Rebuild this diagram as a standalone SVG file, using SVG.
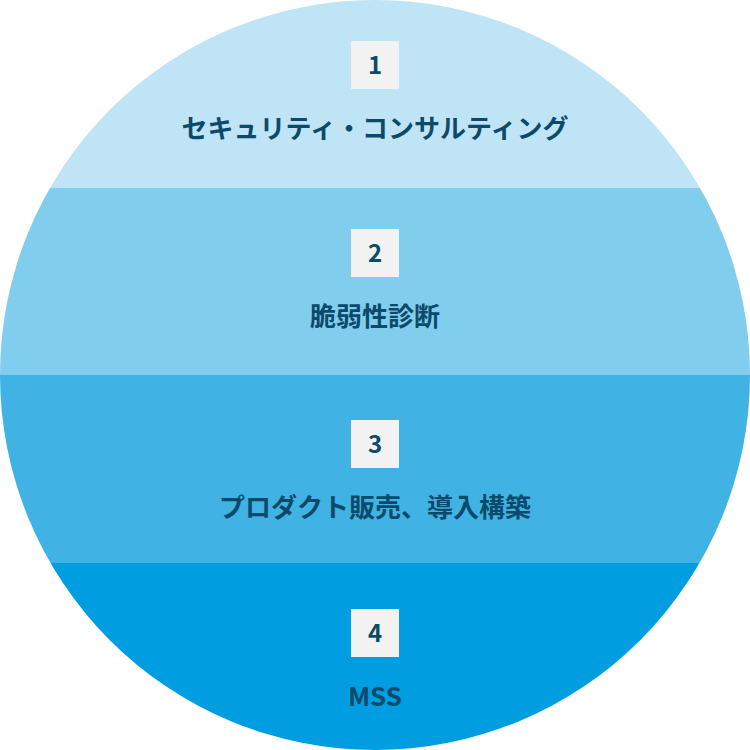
<svg xmlns="http://www.w3.org/2000/svg" width="750" height="750" viewBox="0 0 750 750">
<style>
.num{fill:#f2f2f2}
.t{font-family:"Noto Sans CJK JP","Noto Sans",sans-serif;font-weight:bold;fill:#0b4a6b;text-anchor:middle}
.n{font-size:24px}
.l{font-size:26px}
</style>
<defs><clipPath id="c"><circle cx="375" cy="375" r="375"/></clipPath></defs>
<g clip-path="url(#c)">
<rect id="band1" x="0" y="0" width="750" height="188" fill="#bfe4f5"/>
<rect id="band2" x="0" y="188" width="750" height="187" fill="#80cdee"/>
<rect id="band3" x="0" y="375" width="750" height="188" fill="#40b2e3"/>
<rect id="band4" x="0" y="563" width="750" height="187" fill="#009ee0"/>
</g>
<g id="node1"><rect class="num" x="351" y="41" width="48" height="48"/><text class="t n" x="375" y="74">1</text><text class="t l" x="375" y="138">セキュリティ・コンサルティング</text></g>
<g id="node2"><rect class="num" x="351" y="229" width="48" height="48"/><text class="t n" x="375" y="262">2</text><text class="t l" x="375" y="326">脆弱性診断</text></g>
<g id="node3"><rect class="num" x="351" y="420" width="48" height="48"/><text class="t n" x="375" y="453">3</text><text class="t l" x="375" y="517">プロダクト販売、導入構築</text></g>
<g id="node4"><rect class="num" x="351" y="609" width="48" height="48"/><text class="t n" x="375" y="642">4</text><text class="t l" x="375" y="706">MSS</text></g>
<g id="connectors"/>
</svg>
